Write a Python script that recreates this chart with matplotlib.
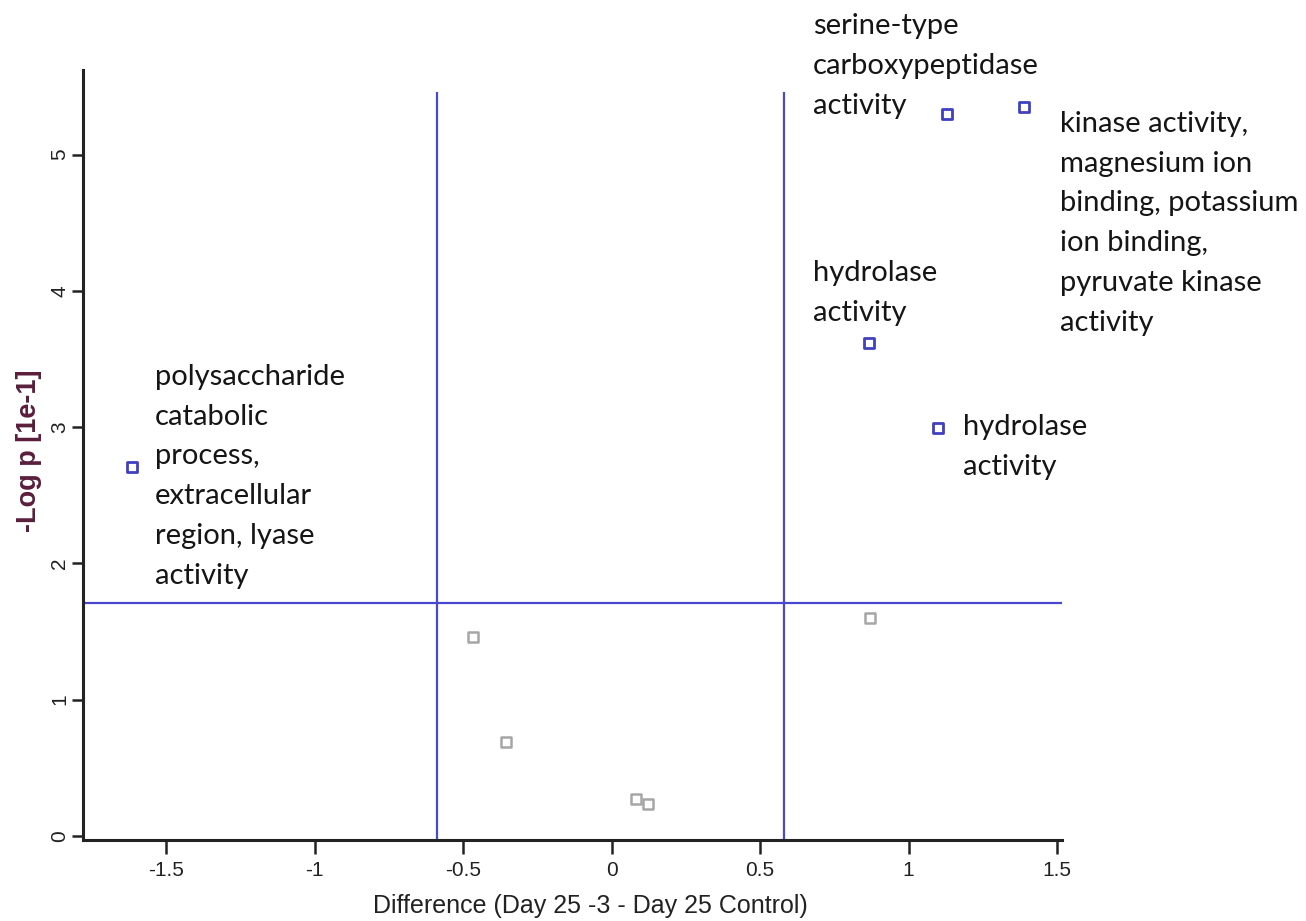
import numpy as np
import matplotlib.pyplot as plt

# significant terms (blue) and the rest (gray)
sig_x = [-1.614, 0.867, 1.099, 1.130, 1.389]
sig_y = [2.71, 3.62, 2.99, 5.30, 5.35]
ns_x = [-0.466, -0.355, 0.082, 0.123, 0.870]
ns_y = [1.46, 0.69, 0.27, 0.235, 1.60]

labels = [
    "polysaccharide\ncatabolic\nprocess,\nextracellular\nregion, lyase\nactivity",
    "hydrolase\nactivity",
    "hydrolase\nactivity",
    "serine-type\ncarboxypeptidase\nactivity",
    "kinase activity,\nmagnesium ion\nbinding, potassium\nion binding,\npyruvate kinase\nactivity",
]

x_cut = [-0.588, 0.581]
y_cut = 1.71

fig = plt.figure(figsize=(13.06, 9.21), dpi=100)
ax = fig.add_axes([0.0636, 0.0879, 0.7496, 0.836])

line_col = '#4848d0'
ax.axhline(y_cut, color=line_col, lw=1.6, zorder=1)
ax.vlines(x_cut, -0.03, 5.46, color=line_col, lw=1.6, zorder=1)

ax.scatter(ns_x, ns_y, marker='s', s=50, facecolors='white', edgecolors='#a6a6a6', linewidths=1.8, zorder=3)
ax.scatter(sig_x, sig_y, marker='s', s=55, facecolors='white', edgecolors='#4040c0', linewidths=2.0, zorder=3)

# label blocks, anchored at the baseline of the last line
lab_pos = [(-1.537, 1.849), (0.678, 3.778), (1.183, 2.649), (0.678, 5.297), (1.510, 3.705)]
for (tx, ty), t in zip(lab_pos, labels):
    ax.text(tx, ty, t, fontsize=21, family='Lato', va='baseline', ha='left',
            linespacing=1.66, color='#151515', clip_on=False)

ax.set_xlim(-1.78, 1.517)
ax.set_ylim(-0.03, 5.62)
ax.set_xticks([-1.5, -1, -0.5, 0, 0.5, 1, 1.5])
ax.set_xticklabels(['-1.5', '-1', '-0.5', '0', '0.5', '1', '1.5'])
ax.set_yticks([0, 1, 2, 3, 4, 5])
for lab in ax.get_yticklabels():
    lab.set_rotation(90)
    lab.set_va('center')
for lab in ax.get_xticklabels() + ax.get_yticklabels():
    lab.set_family('Liberation Sans')

ax.tick_params(axis='x', direction='out', length=10, width=1.8, labelsize=15, pad=5, colors='#222222')
ax.tick_params(axis='y', direction='out', length=8, width=1.8, labelsize=15, pad=2, colors='#222222')
for s in ['top', 'right']:
    ax.spines[s].set_visible(False)
for s in ['left', 'bottom']:
    ax.spines[s].set_linewidth(2.2)
    ax.spines[s].set_color('#222222')

ax.set_xlabel('Difference (Day 25 -3 - Day 25 Control)', fontsize=18, family='Liberation Sans',
              labelpad=10, color='#222222', x=0.518)
ax.set_ylabel('-Log p [1e-1]', fontsize=19.5, family='Liberation Sans', fontweight='bold',
              color='#5a1e3c', labelpad=6, y=0.505)

fig.savefig('out.png', dpi=100)
